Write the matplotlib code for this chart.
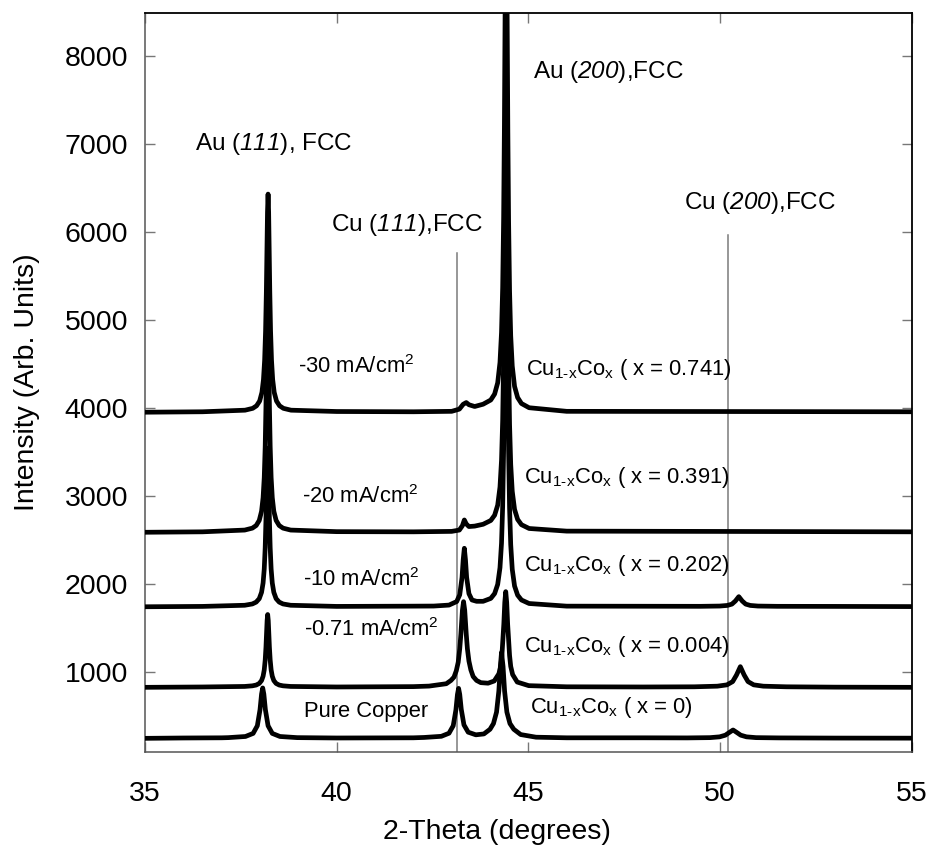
import matplotlib
matplotlib.use("Agg")
import matplotlib.pyplot as plt

plt.rcParams['font.family'] = ['Liberation Sans', 'DejaVu Sans']
plt.rcParams['mathtext.fontset'] = 'custom'
plt.rcParams['mathtext.rm'] = 'Liberation Sans'
plt.rcParams['mathtext.it'] = 'Liberation Sans:italic'
plt.rcParams['mathtext.sf'] = 'Liberation Sans:italic'
plt.rcParams['mathtext.bf'] = 'Liberation Sans:bold'

# ---- data ----
pure_x = [35.0, 36.0, 37.0, 37.17, 37.62, 37.82, 37.93, 38.00, 38.04, 38.07, 38.10, 38.14, 38.21, 38.32,
          38.52, 38.97, 40.0, 42.0, 42.28, 42.73, 42.93, 43.04, 43.11, 43.15, 43.18, 43.21, 43.25, 43.32,
          43.43, 43.63, 43.84, 44.0, 44.09, 44.17, 44.23, 44.27, 44.30, 44.34, 44.38, 44.44, 44.52, 44.62,
          44.8, 45.2, 46.0, 48.0, 49.14, 49.74, 49.99, 50.14, 50.24, 50.34, 50.44, 50.54, 50.69, 50.94,
          51.54, 53.0, 55.0]
pure_y = [242, 246, 248, 250, 263, 298, 385, 568, 745, 815, 745, 568, 385, 298,
          263, 250, 246, 248, 252, 265, 300, 385, 565, 740, 810, 742, 572, 395,
          312, 282, 292, 345, 410, 540, 780, 1060, 1220, 1060, 780, 540, 410, 345,
          285, 255, 248, 248, 247, 250, 259, 278, 308, 337, 308, 278, 259, 250,
          247, 245, 244]

m071_x = [35.0, 36.5, 37.6, 37.8, 37.9, 37.98, 38.04, 38.08, 38.11, 38.135, 38.155, 38.17, 38.185, 38.2,
          38.215, 38.23, 38.245, 38.265, 38.29, 38.32, 38.36, 38.42, 38.5, 38.6, 38.8, 40.0, 42.0,
          42.41, 42.86, 42.98, 43.06, 43.12, 43.17, 43.21, 43.24, 43.28, 43.31, 43.34, 43.38, 43.41,
          43.45, 43.5, 43.56, 43.65, 43.76, 43.95, 44.11, 44.23, 44.28, 44.31, 44.36, 44.385, 44.41,
          44.435, 44.46, 44.51, 44.54, 44.59, 44.71, 45.01, 46.0, 48.0, 49.33, 49.93, 50.18, 50.33,
          50.43, 50.53, 50.63, 50.73, 50.88, 51.13, 51.73, 53.0, 55.0]
m071_y = [822, 826, 832, 839, 848, 866, 899, 948, 1020, 1133, 1279, 1432, 1582, 1650,
          1582, 1432, 1279, 1133, 1020, 948, 899, 866, 848, 839, 832, 826, 830,
          836, 863, 900, 938, 1010, 1107, 1260, 1427, 1699, 1796, 1699, 1427, 1260,
          1120, 1020, 945, 900, 875, 869, 894, 975, 1060, 1184, 1541, 1787, 1910,
          1787, 1541, 1184, 1060, 967, 882, 841, 828, 826, 828, 835, 850, 887,
          962, 1057, 962, 887, 850, 835, 828, 824, 822]

m10_x = [35.0, 36.5, 37.6, 37.8, 37.9, 37.98, 38.04, 38.08, 38.11, 38.135, 38.155, 38.17, 38.185, 38.2,
         38.215, 38.23, 38.245, 38.265, 38.29, 38.32, 38.36, 38.42, 38.5, 38.6, 38.8, 40.0, 42.0,
         42.53, 42.93, 43.13, 43.21, 43.27, 43.30, 43.33, 43.36, 43.39, 43.45, 43.53, 43.65,
         43.82, 44.02, 44.12, 44.20, 44.26, 44.30, 44.33, 44.355, 44.375, 44.39, 44.405, 44.42,
         44.435, 44.45, 44.465, 44.485, 44.51, 44.54, 44.58, 44.64, 44.72, 44.82, 45.02, 46.0,
         49.49, 49.99, 50.19, 50.31, 50.40, 50.49, 50.58, 50.67, 50.79, 50.99, 51.49, 53.0, 55.0]
m10_y = [1738, 1742, 1755, 1770, 1791, 1830, 1902, 2008, 2167, 2412, 2732, 3065, 3393, 3542,
         3393, 3065, 2732, 2412, 2167, 2008, 1902, 1830, 1791, 1770, 1755, 1742, 1745,
         1746, 1757, 1797, 1874, 2072, 2271, 2403, 2271, 2072, 1887, 1815, 1800,
         1800, 1833, 1888, 1992, 2182, 2462, 2879, 3523, 4367, 5244, 6107, 6500,
         6089, 5226, 4349, 3505, 2861, 2444, 2164, 1974, 1870, 1815, 1775, 1745,
         1743, 1746, 1753, 1768, 1803, 1853, 1803, 1768, 1753, 1746, 1743, 1742, 1740]

m20_x = [35.0, 36.5, 37.6, 37.8, 37.9, 37.98, 38.04, 38.08, 38.11, 38.135, 38.155, 38.17, 38.185, 38.2,
         38.215, 38.23, 38.245, 38.265, 38.29, 38.32, 38.36, 38.42, 38.5, 38.6, 38.8, 40.0, 42.0,
         43.0, 43.2, 43.28, 43.33, 43.38, 43.45, 43.6, 43.82, 44.02, 44.12, 44.20, 44.26, 44.30,
         44.33, 44.355, 44.375, 44.39, 44.405, 44.42, 44.435, 44.45, 44.465, 44.485, 44.51, 44.54,
         44.58, 44.64, 44.72, 44.82, 45.02, 46.0, 55.0]
m20_y = [2585, 2590, 2610, 2632, 2662, 2720, 2824, 2978, 3207, 3562, 4026, 4509, 4984, 5200,
         4984, 4509, 4026, 3562, 3207, 2978, 2824, 2720, 2662, 2632, 2610, 2592, 2590,
         2595, 2610, 2660, 2725, 2680, 2650, 2655, 2676, 2719, 2779, 2893, 3099, 3404,
         3858, 4560, 5478, 6433, 7372, 7800, 7324, 6385, 5430, 4512, 3810, 3356,
         3051, 2845, 2731, 2671, 2628, 2598, 2590]

m30_x = [35.0, 36.5, 37.61, 37.81, 37.91, 37.99, 38.05, 38.09, 38.12, 38.145, 38.165, 38.18, 38.195,
         38.21, 38.225, 38.24, 38.255, 38.275, 38.30, 38.33, 38.37, 38.43, 38.51, 38.61, 38.81, 40.0,
         42.0, 43.0, 43.2, 43.3, 43.38, 43.45, 43.6, 43.82, 44.02, 44.12, 44.20, 44.26, 44.30, 44.33,
         44.355, 44.375, 44.39, 44.405, 44.42, 44.435, 44.45, 44.465, 44.485, 44.51, 44.54, 44.58,
         44.64, 44.72, 44.82, 45.02, 46.0, 55.0]
m30_y = [3950, 3955, 3973, 3994, 4023, 4077, 4176, 4322, 4540, 4876, 5317, 5774, 6225,
         6430, 6225, 5774, 5317, 4876, 4540, 4322, 4176, 4077, 4023, 3994, 3973, 3958,
         3955, 3960, 3985, 4040, 4060, 4035, 4015, 4041, 4089, 4157, 4284, 4516, 4858, 5369,
         6158, 7190, 8263, 9319, 9800, 9279, 8223, 7150, 6118, 5329, 4818, 4476,
         4244, 4117, 4049, 4001, 3960, 3955]

ref_lines_x = [43.13, 50.2]
ref_lines_top = [5760, 5965]

x_ticks = [35, 40, 45, 50, 55]
y_ticks = [1000, 2000, 3000, 4000, 5000, 6000, 7000, 8000]

# ---- figure ----
fig = plt.figure(figsize=(9.32, 8.49), dpi=100)
ax = fig.add_axes([0.1556, 0.1146, 0.8226, 0.8704])

ymin, ymax = 90, 8492
for xv, yt in zip(ref_lines_x, ref_lines_top):
    ax.plot([xv, xv], [ymin, yt], color='#7a7a7a', lw=1.1, zorder=1)

for xs, ys in [(pure_x, pure_y), (m071_x, m071_y), (m10_x, m10_y), (m20_x, m20_y), (m30_x, m30_y)]:
    ax.plot(xs, ys, color='black', lw=3.4, solid_joinstyle='round', solid_capstyle='round', zorder=3)

ax.set_xlim(35, 55)
ax.set_ylim(ymin, ymax)
ax.set_xticks(x_ticks)
ax.set_yticks(y_ticks)
ax.tick_params(direction='in', length=7.5, width=1, color='#777777', top=True, right=True,
               labelsize=20.5)
ax.tick_params(axis='x', pad=21)
ax.tick_params(axis='y', pad=12)
for s in ['top', 'right']:
    ax.spines[s].set_color('black')
    ax.spines[s].set_linewidth(1.3)
for s in ['left', 'bottom']:
    ax.spines[s].set_color('#555555')
    ax.spines[s].set_linewidth(1.1)

ax.set_xlabel('2-Theta (degrees)', fontsize=20.5)
ax.set_ylabel('Intensity (Arb. Units)', fontsize=20.5)
ax.xaxis.set_label_coords(0.459, -0.0915)
ax.yaxis.set_label_coords(-0.137, 0.5)

big = 17.5
small = 15.8
ax.text(36.31, 7000, r'Au ($\mathsf{111}$), FCC', fontsize=big, va='center', ha='left')
ax.text(39.86, 6079, r'Cu ($\mathsf{111}$),FCC', fontsize=big, va='center', ha='left')
ax.text(45.12, 7822, r'Au ($\mathsf{200}$),FCC', fontsize=big, va='center', ha='left')
ax.text(49.05, 6329, r'Cu ($\mathsf{200}$),FCC', fontsize=big, va='center', ha='left')

ax.text(38.98, 4464, r'-30 mA/cm$^2$', fontsize=small, va='center', ha='left')
ax.text(39.10, 2990, r'-20 mA/cm$^2$', fontsize=small, va='center', ha='left')
ax.text(39.13, 2043, r'-10 mA/cm$^2$', fontsize=small, va='center', ha='left')
ax.text(39.16, 1474, r'-0.71 mA/cm$^2$', fontsize=small, va='center', ha='left')
ax.text(39.16, 544, 'Pure Copper', fontsize=small, va='center', ha='left')

cu = r'Cu$_{\mathrm{1\text{-}x}}$Co$_{\mathrm{x}}$'
ax.text(44.95, 4430, cu + ' ( x = 0.741)', fontsize=small, va='center', ha='left')
ax.text(44.89, 3202, cu + ' ( x = 0.391)', fontsize=small, va='center', ha='left')
ax.text(44.89, 2202, cu + ' ( x = 0.202)', fontsize=small, va='center', ha='left')
ax.text(44.89, 1290, cu + ' ( x = 0.004)', fontsize=small, va='center', ha='left')
ax.text(45.04, 587, cu + ' ( x = 0)', fontsize=small, va='center', ha='left')

fig.savefig('out.png', dpi=100)
